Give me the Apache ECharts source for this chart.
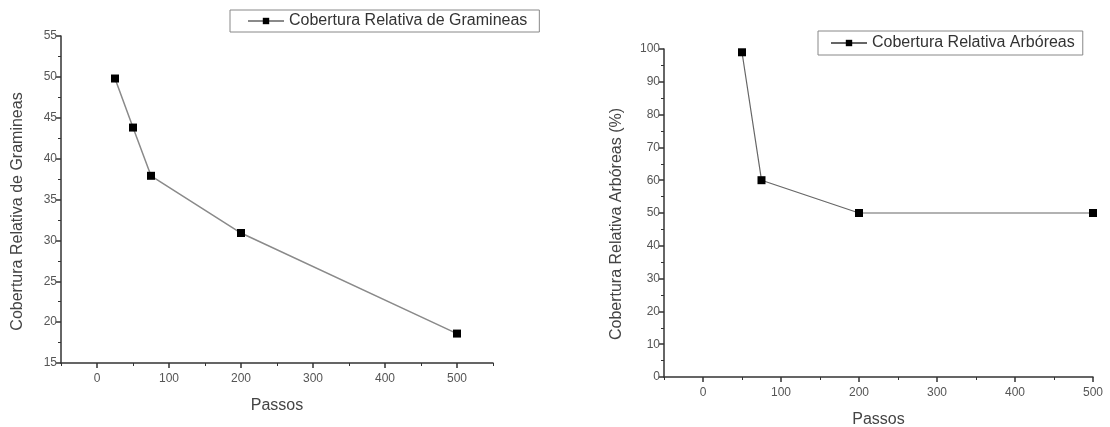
<!DOCTYPE html>
<html>
<head>
<meta charset="utf-8">
<script src="https://cdn.jsdelivr.net/npm/echarts@6/dist/echarts.min.js"></script>
<style>html,body{margin:0;padding:0;background:#fff;}#c{width:1110px;height:427px;}</style>
</head>
<body>
<div id="c"></div>
<script>
// Left chart: Gramineas
const passosGram = [25, 50, 75, 200, 500];
const coberturaGram = [49.8, 43.8, 37.9, 30.9, 18.6];
// Right chart: Arboreas
const passosArb = [50, 75, 200, 500];
const coberturaArb = [99, 60, 50, 50];
// Tick values
const xMajorTicks = [0, 100, 200, 300, 400, 500];
const xMinorTicksLeft = [-50, 50, 150, 250, 350, 450, 550];
const xMinorTicksRight = [-50, 50, 150, 250, 350, 450];

const nameGram = 'Cobertura Relativa de Gramineas';
const nameArb = 'Cobertura Relativa Arbóreas';

const FONT = "'Liberation Sans', Arial, sans-serif";
const axisColor = '#333';
const labelColor = '#555';

function yAxisBase(gridIndex, min, max, interval, name, pad, gap) {
  return {
    type: 'value', gridIndex, min, max, interval,
    name, nameLocation: 'middle', nameGap: gap,
    nameTextStyle: { fontFamily: FONT, fontSize: 16, color: '#444', padding: pad },
    axisLine: { show: true, onZero: false, lineStyle: { color: axisColor, width: 1.5 } },
    axisTick: { show: true, length: 5, lineStyle: { color: axisColor, width: 1.5 } },
    minorTick: { show: true, splitNumber: 2, length: 3, lineStyle: { color: axisColor, width: 1 } },
    axisLabel: { fontFamily: FONT, fontSize: 12, color: labelColor, margin: 4 },
    splitLine: { show: false }
  };
}
function xAxisMajor(gridIndex, min, max, nameGap) {
  return {
    type: 'value', gridIndex, min, max,
    name: 'Passos', nameLocation: 'middle', nameGap,
    nameTextStyle: { fontFamily: FONT, fontSize: 16, color: '#444' },
    axisLine: { show: true, onZero: false, lineStyle: { color: axisColor, width: 1.5 } },
    axisTick: { show: true, length: 5, customValues: xMajorTicks, lineStyle: { color: axisColor, width: 1.5 } },
    axisLabel: { fontFamily: FONT, fontSize: 12, color: labelColor, margin: 10, customValues: xMajorTicks },
    splitLine: { show: false }
  };
}
function xAxisMinor(gridIndex, min, max, vals) {
  return {
    type: 'value', gridIndex, min, max, position: 'bottom',
    axisLine: { show: false, onZero: false },
    axisTick: { show: true, length: 3, customValues: vals, lineStyle: { color: axisColor, width: 1 } },
    axisLabel: { show: false },
    splitLine: { show: false }
  };
}

const chart = echarts.init(document.getElementById('c'), null, { renderer: 'canvas' });
chart.setOption({
  backgroundColor: '#fff',
  animation: false,
  textStyle: { fontFamily: FONT },
  grid: [
    { left: 61, top: 36, width: 432, height: 327, outerBoundsMode: 'none', containLabel: false },
    { left: 664, top: 49, width: 429, height: 328, outerBoundsMode: 'none', containLabel: false }
  ],
  legend: [
    {
      data: [nameGram], left: 230, top: 10,
      borderColor: '#888', borderWidth: 1, padding: [3, 12, 3, 17],
      itemWidth: 36, itemHeight: 8,
      textStyle: { fontFamily: FONT, fontSize: 16, color: '#333' }
    },
    {
      data: [nameArb], left: 818, top: 31,
      borderColor: '#888', borderWidth: 1, padding: [4, 8, 4, 12],
      itemWidth: 36, itemHeight: 8,
      textStyle: { fontFamily: FONT, fontSize: 16, color: '#333' }
    }
  ],
  xAxis: [
    xAxisMajor(0, -50, 550, 35),
    xAxisMinor(0, -50, 550, xMinorTicksLeft),
    xAxisMajor(1, -50, 500, 35),
    xAxisMinor(1, -50, 500, xMinorTicksRight)
  ],
  yAxis: [
    yAxisBase(0, 15, 55, 5, nameGram, [0, 24, 0, 0], 35),
    yAxisBase(1, 0, 100, 10, 'Cobertura Relativa Arbóreas (%)', [0, 22, 0, 0], 39)
  ],
  series: [
    {
      name: nameGram, type: 'line', xAxisIndex: 0, yAxisIndex: 0,
      data: passosGram.map((p, i) => [p, coberturaGram[i]]),
      symbol: 'rect', symbolSize: 8,
      itemStyle: { color: '#000' },
      lineStyle: { color: '#8a8a8a', width: 1.5 }
    },
    {
      name: nameArb, type: 'line', xAxisIndex: 2, yAxisIndex: 1,
      data: passosArb.map((p, i) => [p, coberturaArb[i]]),
      symbol: 'rect', symbolSize: 8,
      itemStyle: { color: '#000' },
      lineStyle: { color: '#666', width: 1.2 }
    }
  ]
});
</script>
</body>
</html>
